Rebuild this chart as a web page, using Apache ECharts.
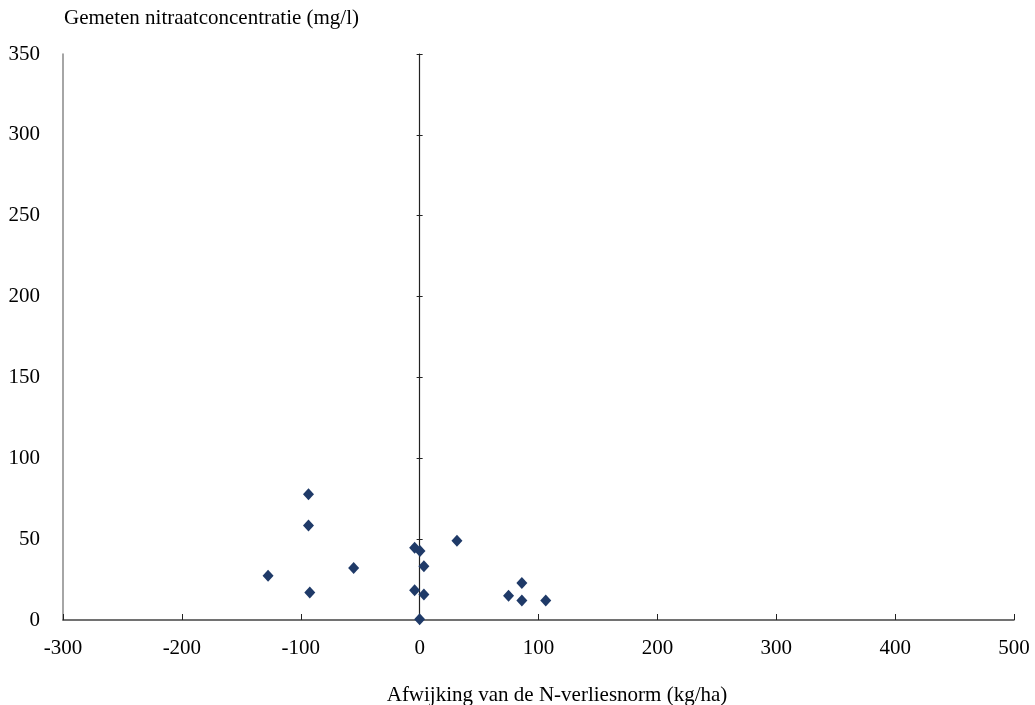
<!DOCTYPE html>
<html>
<head>
<meta charset="utf-8">
<script src="https://cdn.jsdelivr.net/npm/echarts@6/dist/echarts.min.js"></script>
<style>html,body{margin:0;padding:0;background:#fff}#c{width:1035px;height:705px}</style>
</head>
<body>
<div id="c"></div>
<script>
const xValues = [-127.5, -93.5, -93.5, -92.4, -55.5, -4.2, 0.3, 3.6, -4.2, 3.6, 0, 31.4, 74.8, 86, 86, 106.1];
const yValues = [27.4, 77.7, 58.4, 17.0, 32.2, 44.7, 42.6, 33.2, 18.4, 15.7, 0.5, 49.0, 15.0, 22.9, 12.1, 12.1];
const yAxisTitle = 'Gemeten nitraatconcentratie (mg/l)';
const xAxisTitle = 'Afwijking van de N-verliesnorm (kg/ha)';

const FONT = '"Liberation Serif", "Times New Roman", serif';
const FS = 21;
const chart = echarts.init(document.getElementById('c'));
chart.setOption({
  animation: false,
  backgroundColor: '#fff',
  graphic: [
    {type: 'text', left: 64, top: 8, style: {text: yAxisTitle, font: FS + 'px ' + FONT, fill: '#000'}},
    {type: 'text', x: 557, y: 695, style: {text: xAxisTitle, font: FS + 'px ' + FONT, fill: '#000', textAlign: 'center', textVerticalAlign: 'middle'}}
  ],
  grid: {left: 63, right: 21, top: 54, bottom: 85, containLabel: false},
  xAxis: [
    {
      type: 'value', min: -300, max: 500, interval: 100,
      axisLine: {onZero: false, lineStyle: {color: '#444', width: 1.5}},
      axisTick: {show: true, inside: true, length: 6, lineStyle: {color: '#222', width: 1}},
      splitLine: {show: false},
      axisLabel: {fontFamily: FONT, fontSize: FS, color: '#000', margin: 18}
    },
    {
      type: 'value', min: -300, max: 500, interval: 100, position: 'bottom',
      axisLine: {show: false, onZero: false},
      axisTick: {show: false}, axisLabel: {show: false}, splitLine: {show: false}
    }
  ],
  yAxis: [
    {
      type: 'value', min: 0, max: 350, interval: 50, position: 'left',
      axisLine: {show: true, onZero: false, lineStyle: {color: '#888', width: 1.5}},
      axisTick: {show: false},
      splitLine: {show: false},
      axisLabel: {fontFamily: FONT, fontSize: FS, color: '#000', margin: 23}
    },
    {
      type: 'value', min: 0, max: 350, interval: 50, position: 'left',
      axisLine: {show: true, onZero: true, onZeroAxisIndex: 0, lineStyle: {color: '#222', width: 1.2}},
      axisTick: {show: true, inside: true, length: 3, lineStyle: {color: '#222'}},
      axisLabel: {show: false},
      splitLine: {show: false}
    },
    {
      type: 'value', min: 0, max: 350, interval: 50, position: 'left',
      axisLine: {show: true, onZero: true, onZeroAxisIndex: 1, lineStyle: {color: 'rgba(0,0,0,0)', width: 0}},
      axisTick: {show: true, inside: false, length: 3, lineStyle: {color: '#222'}},
      axisLabel: {show: false},
      splitLine: {show: false}
    }
  ],
  series: [{
    type: 'scatter',
    xAxisIndex: 0,
    yAxisIndex: 0,
    symbol: 'diamond',
    symbolSize: [11, 12],
    itemStyle: {color: '#1F3A68', opacity: 1},
    data: xValues.map((x, i) => [x, yValues[i]])
  }]
});
</script>
</body>
</html>
